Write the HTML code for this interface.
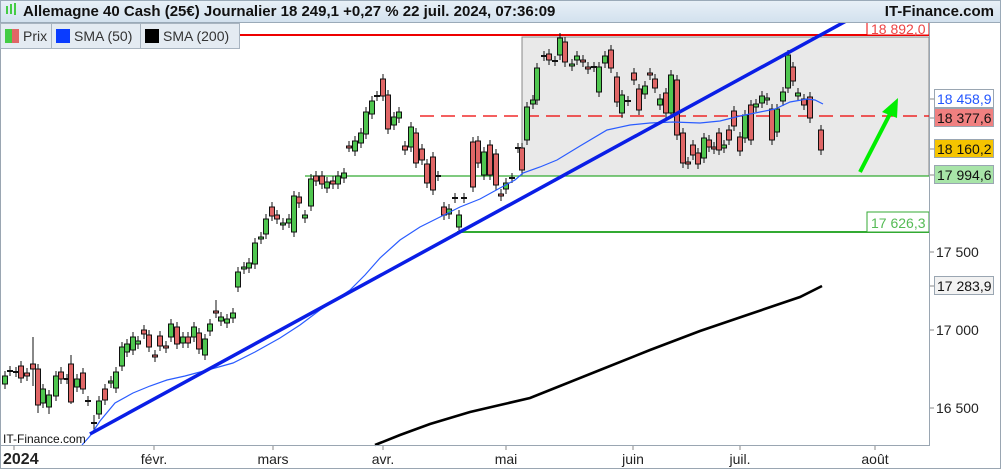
<!DOCTYPE html>
<html><head><meta charset="utf-8"><style>
body{margin:0;width:1001px;height:469px;overflow:hidden;background:#fff;font-family:"Liberation Sans",sans-serif;}
#hdr{position:absolute;left:0;top:0;width:999px;height:21px;background:linear-gradient(#e8f0f7,#d3e1ee);border:1px solid #9aaab8;}
#hdr .t{position:absolute;left:22px;top:2px;font-size:15px;font-weight:bold;color:#111;}
#hdr .r{position:absolute;right:6px;top:2px;font-size:15px;font-weight:bold;color:#111;}
.lg{position:absolute;top:23px;height:24px;background:#e4ebf2;border:1px solid #a8b4c0;font-size:14px;color:#333;line-height:24px;}
.sw{display:inline-block;width:14px;height:14px;vertical-align:-2px;margin:0 4px 0 4px;}
</style></head><body>
<svg width="1001" height="469" style="position:absolute;left:0;top:0" id="s" font-family="Liberation Sans, sans-serif"></svg>
<div id="hdr"><span class="t">Allemagne 40 Cash (25€) Journalier 18 249,1 +0,27 % 22 juil. 2024, 07:36:09</span><span class="r">IT-Finance.com</span>
<div style="position:absolute;left:5px;top:5px;width:2px;height:8px;background:#4c4"></div><div style="position:absolute;left:9px;top:3px;width:2px;height:10px;background:#4c4"></div><div style="position:absolute;left:13px;top:2px;width:2px;height:12px;background:#4c4"></div></div>
<div class="lg" style="left:0;width:50px"><span class="sw" style="background:linear-gradient(90deg,#4c4 50%,#e06666 50%)"></span>Prix</div>
<div class="lg" style="left:51px;width:88px"><span class="sw" style="background:#0a3cff"></span>SMA (50)</div>
<div class="lg" style="left:140px;width:98px"><span class="sw" style="background:#000"></span>SMA (200)</div>
<script>
const s=document.getElementById('s');let h='';
h+='<rect x="522" y="37" width="407" height="139" fill="#e9e9e9" stroke="#888" stroke-width="1"/>';
h+='<line x1="240" y1="35" x2="929" y2="35" stroke="#e00" stroke-width="2"/>';
h+='<line x1="420" y1="116" x2="929" y2="116" stroke="#e00" stroke-width="1.3" stroke-dasharray="14,7"/>';
h+='<line x1="305" y1="176" x2="929" y2="176" stroke="#3a3" stroke-width="1.3"/>';
h+='<line x1="457" y1="232" x2="929" y2="232" stroke="#3a3" stroke-width="2"/>';
h+='<rect x="867" y="212" width="62" height="20" fill="#fff" stroke="#3a3"/><text x="871" y="228" font-size="14" fill="#5b5">17 626,3</text>';
h+='<rect x="867" y="20" width="62" height="15" fill="#fff" stroke="#e00"/><text x="871" y="34" font-size="14" fill="#e44">18 892,0</text>';
const C=[[5,384,376,'g'],[10,371,371,'x'],[16,372,372,'x'],[21,366,378,'r'],[27,373,376,'r'],[33,364,369,'r',337,386],[38,369,405,'r',364,413],[43,403,389,'g'],[49,407,395,'g',null,414],[56,396,376,'g'],[61,372,379,'r'],[67,379,379,'x'],[71,364,402,'r',355,404],[77,387,379,'g'],[83,373,389,'r'],[88,401,401,'x'],[94,423,423,'x',415,432],[99,414,401,'g'],[105,389,400,'r'],[111,383,381,'g'],[116,388,372,'g'],[122,366,347,'g'],[127,352,344,'g'],[133,350,337,'g'],[138,344,341,'g'],[144,330,334,'r'],[149,335,347,'r'],[155,355,357,'r'],[160,336,346,'r'],[166,346,348,'r'],[171,337,324,'g'],[177,327,344,'r'],[183,343,337,'g'],[188,337,343,'r'],[194,337,327,'g'],[199,333,349,'r'],[205,355,339,'g'],[210,331,324,'g'],[216,311,313,'r',300,318],[221,321,317,'g'],[227,323,319,'g'],[233,318,313,'g'],[238,287,272,'g'],[244,269,267,'g'],[249,268,263,'g'],[255,264,243,'g'],[261,239,237,'g'],[266,234,219,'g'],[272,207,216,'r'],[277,215,219,'r'],[283,225,223,'g'],[289,223,219,'g'],[294,232,196,'g'],[299,197,203,'r'],[305,218,215,'g'],[311,206,179,'g'],[316,176,181,'r'],[322,176,184,'r'],[327,188,182,'g'],[333,181,184,'r'],[338,184,176,'g'],[344,178,173,'g'],[349,146,147,'r'],[355,151,141,'g'],[361,143,133,'g'],[366,134,112,'g'],[372,114,101,'g'],[377,96,96,'x'],[383,79,96,'r'],[388,95,129,'r'],[394,125,117,'g'],[399,118,112,'g'],[405,146,150,'r'],[411,147,127,'g'],[416,133,163,'r'],[422,149,160,'r'],[427,164,183,'r'],[433,157,190,'r'],[438,176,176,'x'],[444,207,215,'r'],[449,214,209,'g'],[455,198,198,'x'],[459,227,215,'g'],[464,198,198,'x'],[473,142,187,'r'],[478,141,163,'r'],[484,175,152,'g'],[490,145,175,'r'],[496,154,185,'r'],[501,194,196,'r'],[506,189,183,'g'],[512,178,178,'x'],[518,148,148,'x'],[522,148,170,'r'],[527,140,107,'g'],[533,104,100,'g'],[537,100,68,'g'],[544,56,56,'x'],[549,54,60,'r'],[555,61,61,'x'],[560,55,38,'g'],[565,42,62,'r'],[572,66,64,'g'],[577,60,56,'g'],[583,60,62,'r'],[588,67,69,'r'],[594,67,67,'x'],[599,92,67,'g'],[605,63,56,'g'],[611,50,68,'r'],[617,77,102,'r'],[622,113,95,'g'],[628,101,101,'x'],[634,73,80,'r'],[639,89,110,'r'],[645,94,86,'g'],[650,73,75,'r'],[655,79,88,'r'],[660,105,99,'g'],[666,93,113,'r'],[671,113,75,'g'],[677,80,135,'r'],[683,133,163,'r'],[688,162,164,'r'],[693,145,155,'r'],[698,153,164,'r'],[704,158,138,'g'],[709,140,147,'r'],[714,147,149,'r'],[719,133,150,'r'],[724,148,145,'g'],[729,130,140,'r'],[734,111,126,'r'],[740,137,151,'r'],[745,138,115,'g'],[751,105,140,'r'],[756,107,104,'g'],[762,103,96,'g'],[767,100,98,'g'],[772,109,140,'r'],[777,132,109,'g'],[783,101,92,'g'],[788,88,55,'g'],[793,67,81,'r'],[798,96,93,'g'],[804,99,105,'r'],[810,97,118,'r'],[821,130,150,'r']];
for(const c of C){let [x,o,cl,t,hi,lo]=c;let top=Math.min(o,cl),bot=Math.max(o,cl);
hi=hi||top-5;lo=lo||bot+5;
h+=`<line x1="${x}" y1="${hi}" x2="${x}" y2="${lo}" stroke="#111" stroke-width="1"/>`;
if(t=='x'){h+=`<line x1="${x-3}" y1="${o}" x2="${x+3}" y2="${o}" stroke="#111" stroke-width="2"/>`;}
else h+=`<rect x="${x-2.5}" y="${top}" width="5" height="${Math.max(bot-top,2)}" fill="${t=='g'?'#4fc64f':'#e06666'}" stroke="#111" stroke-width="1"/>`;}
h+='<path fill="none" stroke="#2a5cff" stroke-width="1.2" d="M82,445 L90,436 100,421 115,403 133,393 150,386 167,380 185,376 200,372 215,368 233,363 255,352 280,338 300,325 320,310 335,300 350,290 365,275 380,258 400,240 420,227 440,217 460,207 480,199 500,188 515,180 523,173 540,167 557,160 580,146 607,130 630,125 650,123 673,122 700,123 720,121 740,116 760,112 775,109 790,102 807,99 815,100 823,104"/>';
h+='<line x1="90" y1="434" x2="848" y2="20" stroke="#0a1ee6" stroke-width="3.5"/>';
h+='<polyline fill="none" stroke="#000" stroke-width="2.6" points="375,445 400,435 430,424 470,412 500,405 530,398 560,386 600,370 650,350 700,331 750,314 800,297 822,286"/>';
h+='<polyline fill="none" stroke="#0e0" stroke-width="4" points="860,172 892,110"/><polygon points="898,98 882,112 897,118" fill="#0e0"/>';
h+='<line x1="0" y1="445.5" x2="930" y2="445.5" stroke="#9aa6b2"/><line x1="929.5" y1="22" x2="929.5" y2="446" stroke="#9aa6b2"/><line x1="0.5" y1="22" x2="0.5" y2="469" stroke="#9aa6b2"/><line x1="1000.5" y1="22" x2="1000.5" y2="469" stroke="#9aa6b2"/><line x1="0" y1="468.5" x2="1001" y2="468.5" stroke="#9aa6b2"/>';
h+='<text x="3" y="443" font-size="12" fill="#111">IT-Finance.com</text>';
h+='<text x="3" y="464" font-size="16" font-weight="bold" fill="#222">2024</text><line x1="14" y1="446" x2="14" y2="450" stroke="#888"/>';
for(const [x,l] of [[154,'févr.'],[273,'mars'],[383,'avr.'],[506,'mai'],[633,'juin'],[740,'juil.'],[875,'août']]){h+=`<line x1="${x}" y1="446" x2="${x}" y2="450" stroke="#888"/><text x="${x}" y="464" font-size="14" text-anchor="middle" fill="#222">${l}</text>`;}
for(const [y,l] of [[252,'17 500'],[330,'17 000'],[408,'16 500']]){h+=`<line x1="930" y1="${y}" x2="934" y2="${y}" stroke="#888"/><text x="936" y="${y+5}" font-size="14" fill="#222">${l}</text>`;}
for(const [y,l,bg,fg] of [[99,'18 458,9','#fff','#2255ff'],[118,'18 377,6','#f08080','#111'],[149,'18 160,2','#f5c400','#111'],[175,'17 994,6','#a8e4a8','#111'],[286,'17 283,9','#f2f2f2','#111']]){h+=`<line x1="930" y1="${y}" x2="934" y2="${y}" stroke="#888"/><rect x="934.5" y="${y-9.5}" width="59" height="18" fill="${bg}" stroke="#9aa6b2"/><text x="937" y="${y+5}" font-size="14" fill="${fg}">${l}</text>`;}
s.innerHTML=h;
</script>
</body></html>
